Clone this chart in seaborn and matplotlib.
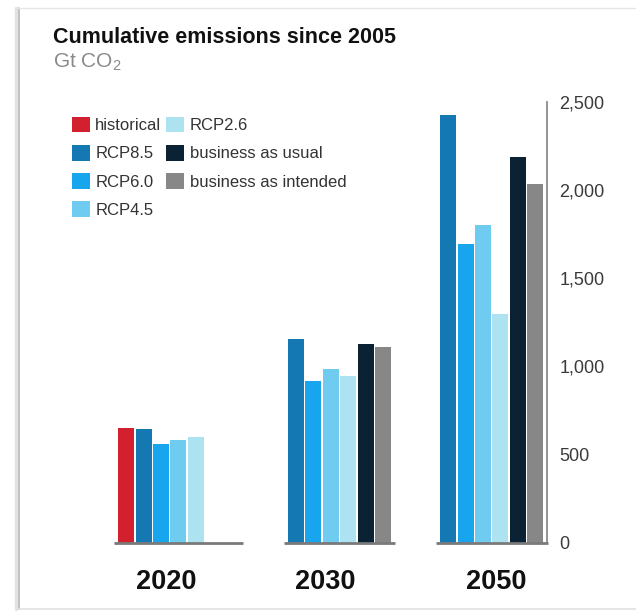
import numpy as np
import pandas as pd
import matplotlib
matplotlib.use("Agg")
import matplotlib.pyplot as plt
from matplotlib.lines import Line2D
from matplotlib.patches import Patch
from matplotlib.ticker import FuncFormatter
import seaborn as sns

# ---- data ----
years = ["2020", "2030", "2050"]
series = ["historical", "RCP8.5", "RCP6.0", "RCP4.5", "RCP2.6",
          "business as usual", "business as intended"]
colors = ["#D2202F", "#1479B3", "#17A5EE", "#6FCBEF", "#ADE3F0",
          "#0B2134", "#878787"]
historical = [648, None, None]
rcp85 = [642, 1157, 2424]
rcp60 = [561, 915, 1695]
rcp45 = [580, 987, 1801]
rcp26 = [599, 943, 1294]
bau = [None, 1129, 2188]
bai = [None, 1112, 2036]
yticks = [0, 500, 1000, 1500, 2000, 2500]

rows = []
for name, vals in zip(series, [historical, rcp85, rcp60, rcp45, rcp26, bau, bai]):
    for y, v in zip(years, vals):
        if v is not None:
            rows.append({"year": y, "series": name, "value": v})
df = pd.DataFrame(rows)

sns.set_style("white")
plt.rcParams["font.family"] = ["Liberation Sans", "DejaVu Sans"]
plt.rcParams["mathtext.fontset"] = "custom"
plt.rcParams["mathtext.rm"] = "Liberation Sans"
plt.rcParams["mathtext.it"] = "Liberation Sans"

W, H = 636, 611
fig = plt.figure(figsize=(W / 100, H / 100), dpi=100)
left_px, right_px = 102.2, 547.0
bot_px, top_px = 542.7, 101.7
ax = fig.add_axes([left_px / W, 1 - bot_px / H,
                   (right_px - left_px) / W, (bot_px - top_px) / H])

width = 0.8
sns.barplot(data=df, x="year", y="value", hue="series", order=years,
            hue_order=series, palette=colors, width=width, gap=0.08,
            dodge=True, errorbar=None, legend=False, ax=ax,
            saturation=1, linewidth=0)

ax.set_xlim(-0.5, 2.42)
ax.set_ylim(0, 2500)
ax.set_xlabel("")
ax.set_ylabel("")

# spines
for s in ["top", "left", "bottom"]:
    ax.spines[s].set_visible(False)
ax.spines["right"].set_visible(True)
ax.spines["right"].set_color("#8a8a8a")
ax.spines["right"].set_linewidth(1.3)
ax.spines["right"].set_bounds(0, 2500)

ax.yaxis.tick_right()
ax.set_yticks(yticks)
ax.yaxis.set_major_formatter(FuncFormatter(lambda v, p: f"{int(v):,}"))
ax.tick_params(axis="y", length=0, pad=9, labelsize=13, labelcolor="#3a3a3a")

# x tick labels
ax.set_xticks([-0.077, 0.963, 2.087])
ax.set_xticklabels(years)
ax.tick_params(axis="x", length=0, pad=19, labelsize=19.5)
for t in ax.get_xticklabels():
    t.set_fontweight("bold")
    t.set_color("#111111")

# baseline segments per group
pad = 0.025
for i, y in enumerate(years):
    lefts = [p.get_x() for p in ax.patches
             if p.get_height() > 0 and i - width / 2 - 1e-6 <= p.get_x() <= i + width / 2]
    x0 = min(lefts) - pad
    x1 = i + width / 2 + pad
    ax.hlines(0, x0, x1, color="#7a7a7a", lw=2.0, clip_on=False, zorder=3)

# legend
handles = [Patch(facecolor=c, edgecolor="none") for c in colors]
fig.legend(handles, series, loc="upper left",
           bbox_to_anchor=(72 / W, 1 - 117 / H), ncol=2, frameon=False,
           fontsize=12, handlelength=1.05, handleheight=1.05,
           handletextpad=0.35, columnspacing=0.3, labelspacing=0.7,
           borderpad=0, borderaxespad=0, labelcolor="#333333")

# title
fig.text(53 / W, 1 - 43 / H, "Cumulative emissions since 2005",
         fontsize=15.5, fontweight="bold", color="#111111", va="baseline")
fig.text(53 / W, 1 - 68 / H, "Gt CO$_2$", fontsize=15, color="#8a8a8a",
         va="baseline")

# card frame
fig.add_artist(Line2D([16 / W, 16 / W], [1 - 609 / H, 1 - 8 / H],
                      transform=fig.transFigure, color="#e2e2e2", lw=2.5))
fig.add_artist(Line2D([18.5 / W, 18.5 / W], [1 - 609 / H, 1 - 8 / H],
                      transform=fig.transFigure, color="#bdbdbd", lw=1.3))
fig.add_artist(Line2D([18 / W, 1], [1 - 8 / H, 1 - 8 / H],
                      transform=fig.transFigure, color="#e6e6e6", lw=1.0))
fig.add_artist(Line2D([18 / W, 1], [1 - 609 / H, 1 - 609 / H],
                      transform=fig.transFigure, color="#e0e0e0", lw=1.2))

fig.savefig("out.png", dpi=100)
